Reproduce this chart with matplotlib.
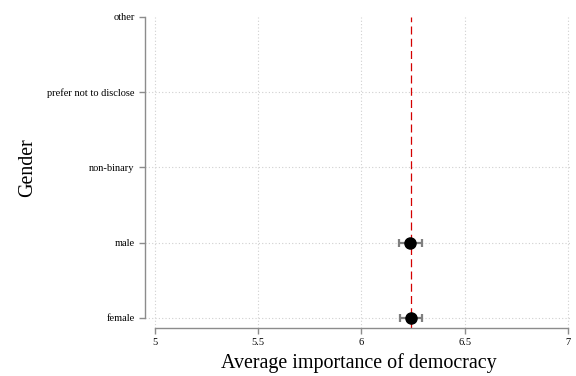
import matplotlib.pyplot as plt

genders = ['female', 'male', 'non-binary', 'prefer not to disclose', 'other']
means = [6.240, 6.237]  # only female and male have data
ci_low = [6.187, 6.180]
ci_high = [6.296, 6.295]
overall_mean = 6.239
x_ticks = [5, 5.5, 6, 6.5, 7]

plt.rcParams['font.family'] = ['Liberation Serif', 'DejaVu Serif']

fig = plt.figure(figsize=(5.76, 3.76), dpi=100)
ax = fig.add_axes([0.2517, 0.1277, 0.7413, 0.8271])

grid_kw = dict(color='#d0d0d0', linestyle=(0, (1, 2)), linewidth=0.8)
ax.grid(True, **grid_kw)
ax.set_axisbelow(True)

ax.axvline(overall_mean, color='#d40000', linestyle=(0, (6.4, 3.4)), linewidth=0.9, zorder=2)

ypos = list(range(len(means)))
err = [[m - lo for m, lo in zip(means, ci_low)], [hi - m for m, hi in zip(means, ci_high)]]
ax.errorbar(means, ypos, xerr=err, fmt='none', ecolor='#7f7f7f', elinewidth=1.6,
            capsize=3, capthick=1.6, zorder=3)
ax.plot(means, ypos, 'o', color='black', markersize=8, zorder=4)

ax.set_yticks(range(len(genders)))
ax.set_yticklabels(genders)
ax.set_xticks(x_ticks)
ax.set_xticklabels([str(t) for t in x_ticks])
ax.set_xlim(4.952, 7.02)
ax.set_ylim(-0.133, 4.0)
ax.yaxis.get_gridlines()[-1].set_visible(False)

for s in ['top', 'right']:
    ax.spines[s].set_visible(False)
ax.spines['left'].set_bounds(0, 4)
ax.spines['bottom'].set_bounds(5, 7)
for s in ['left', 'bottom']:
    ax.spines[s].set_color('#8c8c8c')
    ax.spines[s].set_linewidth(1.0)

ax.tick_params(axis='both', colors='#8c8c8c', labelcolor='black', labelsize=7.5,
               length=4, width=1.0)

ax.set_xlabel('Average importance of democracy', fontsize=14.4, labelpad=4)
ax.set_ylabel('Gender', fontsize=14.4, labelpad=8)
ax.yaxis.set_label_coords(-0.253, 0.515)

fig.savefig('out.png', dpi=100)
